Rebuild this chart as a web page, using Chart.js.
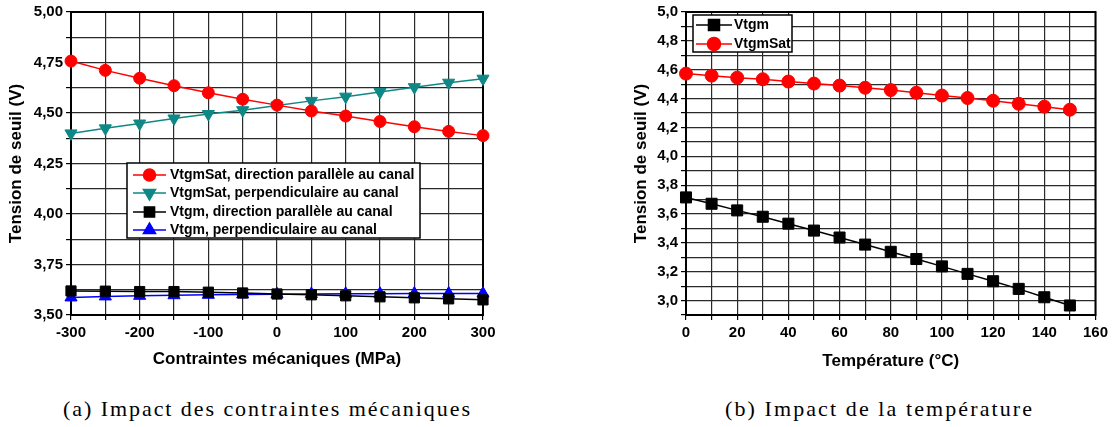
<!DOCTYPE html>
<html>
<head>
<meta charset="utf-8">
<script src="https://cdn.jsdelivr.net/npm/chart.js@4.4.1/dist/chart.umd.min.js"></script>
<style>
  html, body { margin: 0; padding: 0; background: #fff; }
  body { width: 1112px; height: 427px; position: relative; overflow: hidden; }
  .wrap { position: absolute; top: 0; }
  .cap { position: absolute; top: 397px; font-family: "Liberation Serif", "DejaVu Serif", serif; font-size: 22px; line-height: 24px; color: #000; white-space: nowrap; transform-origin: 0 0; }
</style>
</head>
<body>
<div class="wrap" style="left:0px;width:500px;height:385px;"><canvas id="ca" width="500" height="385"></canvas></div>
<div class="wrap" style="left:620px;width:492px;height:385px;"><canvas id="cb" width="492" height="385"></canvas></div>
<div class="cap" id="capA" data-left="63" data-width="407">(a) Impact des contraintes mécaniques</div>
<div class="cap" id="capB" data-left="725" data-width="307">(b) Impact de la température</div>
<script>
// ---------- Data (a): mechanical stress ----------
const stressMPa = [-300, -250, -200, -150, -100, -50, 0, 50, 100, 150, 200, 250, 300];
const satParallel = [4.757, 4.711, 4.672, 4.635, 4.600, 4.568, 4.539, 4.510, 4.485, 4.458, 4.432, 4.409, 4.388];
const satPerpendicular = [4.399, 4.424, 4.448, 4.473, 4.495, 4.514, 4.537, 4.560, 4.581, 4.604, 4.628, 4.650, 4.670];
const vtgmParallel = [3.619, 3.618, 3.616, 3.616, 3.613, 3.609, 3.604, 3.600, 3.595, 3.590, 3.585, 3.580, 3.575];
const vtgmPerpendicular = [3.587, 3.592, 3.595, 3.598, 3.600, 3.602, 3.603, 3.604, 3.605, 3.605, 3.606, 3.606, 3.606];
const labelsA = ["VtgmSat, direction parallèle au canal", "VtgmSat, perpendiculaire au canal", "Vtgm, direction parallèle au canal", "Vtgm, perpendiculaire au canal"];

// ---------- Data (b): temperature ----------
const temperatureC = [0, 10, 20, 30, 40, 50, 60, 70, 80, 90, 100, 110, 120, 130, 140, 150];
const vtgmTemp = [3.715, 3.671, 3.625, 3.581, 3.533, 3.485, 3.437, 3.388, 3.338, 3.288, 3.237, 3.185, 3.134, 3.081, 3.023, 2.966];
const vtgmSatTemp = [4.573, 4.559, 4.545, 4.534, 4.518, 4.504, 4.490, 4.475, 4.459, 4.440, 4.421, 4.404, 4.385, 4.364, 4.344, 4.323];
const labelsB = ["Vtgm", "VtgmSat"];

const axisTitleA = { x: "Contraintes mécaniques (MPa)", y: "Tension de seuil (V)" };
const axisTitleB = { x: "Température (°C)", y: "Tension de seuil (V)" };

function pts(xs, ys) { return xs.map((x, i) => ({ x: x, y: ys[i] })); }

const TICK_FONT = { family: "'Liberation Sans', Arial, sans-serif", size: 15, weight: 'bold' };
const TITLE_FONT = { family: "'Liberation Sans', Arial, sans-serif", size: 17, weight: 'bold' };
const GRID_COLOR = '#2a2a2a';

// frame plugin: thick black border around plot area
const framePlugin = {
  id: 'frame',
  beforeDatasetsDraw(chart) {
    const { ctx, chartArea: a } = chart;
    ctx.save();
    ctx.strokeStyle = '#000';
    ctx.lineWidth = 2;
    ctx.strokeRect(a.left, a.top, a.right - a.left, a.bottom - a.top);
    ctx.restore();
  }
};

// custom in-plot legend drawn from the datasets
const boxLegend = {
  id: 'boxLegend',
  afterDraw(chart, args, opts) {
    const { ctx } = chart;
    ctx.save();
    ctx.fillStyle = '#fff';
    ctx.fillRect(opts.x, opts.y, opts.w, opts.h);
    ctx.strokeStyle = '#000';
    ctx.lineWidth = 1.5;
    ctx.strokeRect(opts.x, opts.y, opts.w, opts.h);
    ctx.font = "bold 14px 'Liberation Sans', Arial, sans-serif";
    ctx.textBaseline = 'middle';
    chart.data.datasets.forEach((ds, i) => {
      const y = opts.rowY[i];
      ctx.strokeStyle = ds.borderColor;
      ctx.lineWidth = 1.5;
      ctx.beginPath();
      ctx.moveTo(opts.lineX0, y);
      ctx.lineTo(opts.lineX1, y);
      ctx.stroke();
      ctx.fillStyle = ds.pointBackgroundColor;
      ctx.strokeStyle = ds.pointBorderColor;
      Chart.helpers.drawPoint(ctx, { pointStyle: ds.pointStyle, rotation: ds.pointRotation || 0, radius: ds.pointRadius, borderWidth: 1 }, (opts.lineX0 + opts.lineX1) / 2, y);
      ctx.fillStyle = '#000';
      ctx.fillText(ds.label, opts.textX, y + 0.5);
    });
    ctx.restore();
  }
};

function ds(label, data, color, style, radius, rot) {
  return {
    label: label, data: data, borderColor: color, backgroundColor: color,
    pointBackgroundColor: color, pointBorderColor: color, pointStyle: style,
    pointRadius: radius, pointHoverRadius: radius, pointRotation: rot || 0,
    borderWidth: 1.5, pointBorderWidth: 1, tension: 0, clip: false
  };
}

// ---------- Chart (a) ----------
new Chart(document.getElementById('ca'), {
  type: 'line',
  data: {
    datasets: [
      ds(labelsA[0], pts(stressMPa, satParallel), '#ff0000', 'circle', 6),
      ds(labelsA[1], pts(stressMPa, satPerpendicular), '#0f8787', 'triangle', 7, 180),
      ds(labelsA[2], pts(stressMPa, vtgmParallel), '#000000', 'rect', 7.2),
      ds(labelsA[3], pts(stressMPa, vtgmPerpendicular), '#0000ff', 'triangle', 7)
    ]
  },
  options: {
    responsive: false, animation: false, events: [],
    layout: { padding: { top: 11, right: 17, left: 0, bottom: 0 } },
    plugins: {
      legend: { display: false }, tooltip: { enabled: false },
      boxLegend: { x: 127, y: 163, w: 293, h: 75, rowY: [175, 193, 212, 230], lineX0: 133, lineX1: 166, textX: 170 }
    },
    scales: {
      x: {
        type: 'linear', min: -300, max: 300,
        afterFit(s) { s.height = 385 - 315; },
        ticks: {
          stepSize: 50, font: TICK_FONT, color: '#000', padding: 4, maxRotation: 0, autoSkip: false,
          callback(v) { return Math.round(v) % 100 === 0 ? String(Math.round(v)) : ''; }
        },
        grid: { color: GRID_COLOR, lineWidth: 1.2, tickLength: 5, tickColor: '#000' },
        border: { display: true, color: '#000', width: 2 },
        title: { display: true, text: axisTitleA.x, font: TITLE_FONT, color: '#000', padding: { top: 0, bottom: 15 } }
      },
      y: {
        min: 3.5, max: 5.0,
        afterFit(s) { s.width = 71; },
        ticks: {
          stepSize: 0.125, font: TICK_FONT, color: '#000', padding: 3, autoSkip: false,
          callback(v) { return Math.abs(v * 4 - Math.round(v * 4)) < 1e-6 ? v.toFixed(2).replace('.', ',') : ''; }
        },
        grid: { color: GRID_COLOR, lineWidth: 1.2, tickLength: 5, tickColor: '#000' },
        border: { display: true, color: '#000', width: 2 },
        title: { display: true, text: axisTitleA.y, font: TITLE_FONT, color: '#000', padding: { top: 6, bottom: 0 } }
      }
    }
  },
  plugins: [framePlugin, boxLegend]
});

// ---------- Chart (b) ----------
new Chart(document.getElementById('cb'), {
  type: 'line',
  data: {
    datasets: [
      ds(labelsB[0], pts(temperatureC, vtgmTemp), '#000000', 'rect', 7.8),
      ds(labelsB[1], pts(temperatureC, vtgmSatTemp), '#ff0000', 'circle', 6.5)
    ]
  },
  options: {
    responsive: false, animation: false, events: [],
    layout: { padding: { top: 11, right: 14, left: 0, bottom: 0 } },
    plugins: {
      legend: { display: false }, tooltip: { enabled: false },
      boxLegend: { x: 73, y: 15, w: 99, h: 37, rowY: [25, 44], lineX0: 76, lineX1: 112, textX: 114 }
    },
    scales: {
      x: {
        type: 'linear', min: 0, max: 160,
        afterFit(s) { s.height = 385 - 315; },
        ticks: {
          stepSize: 10, font: TICK_FONT, color: '#000', padding: 4, maxRotation: 0, autoSkip: false,
          callback(v) { return Math.round(v) % 20 === 0 ? String(Math.round(v)) : ''; }
        },
        grid: { color: GRID_COLOR, lineWidth: 1.2, tickLength: 5, tickColor: '#000' },
        border: { display: true, color: '#000', width: 2 },
        title: { display: true, text: axisTitleB.x, font: TITLE_FONT, color: '#000', padding: { top: 0, bottom: 13 } }
      },
      y: {
        min: 2.9, max: 5.0,
        afterFit(s) { s.width = 66; },
        ticks: {
          stepSize: 0.1, font: TICK_FONT, color: '#000', padding: 3, autoSkip: false,
          callback(v) { return Math.round(v * 10) % 2 === 0 ? v.toFixed(1).replace('.', ',') : ''; }
        },
        grid: { color: GRID_COLOR, lineWidth: 1.2, tickLength: 5, tickColor: '#000' },
        border: { display: true, color: '#000', width: 2 },
        title: { display: true, text: axisTitleB.y, font: TITLE_FONT, color: '#000', padding: { top: 11, bottom: 0 } }
      }
    }
  },
  plugins: [framePlugin, boxLegend]
});

// fit captions to their widths (horizontal scale, like the stretched TeX font)
document.querySelectorAll('.cap').forEach(el => {
  const target = +el.dataset.width;
  el.style.left = el.dataset.left + 'px';
  const w = el.getBoundingClientRect().width;
  const n = el.textContent.length - 1;
  el.style.letterSpacing = Math.max(0, (target - w) / n) + 'px';
});
</script>
</body>
</html>
